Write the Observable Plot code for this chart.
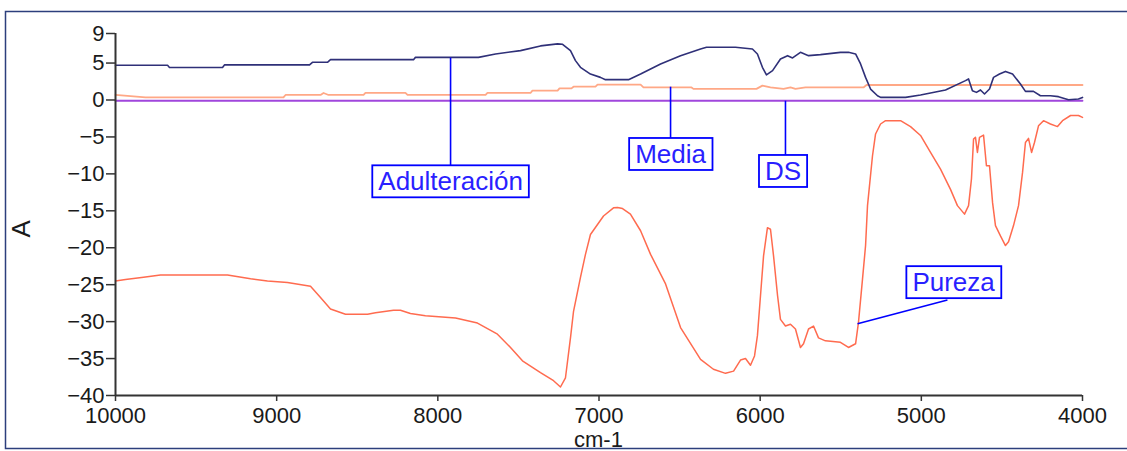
<!DOCTYPE html>
<html>
<head>
<meta charset="utf-8">
<script src="https://cdn.jsdelivr.net/npm/d3@7"></script>
<script src="https://cdn.jsdelivr.net/npm/@observablehq/plot@0.6"></script>
<style>
  html, body { margin: 0; padding: 0; background: #fff; }
  #chart { width: 1127px; height: 451px; }
</style>
</head>
<body>
<div id="chart"></div>
<script>
// ---- Data (wavenumber cm-1, absorbance A) ----
const adulWn = [10000, 9677, 9665, 9336, 9324, 8796, 8778, 8685, 8666, 8151, 8139, 7748, 7642, 7487, 7363, 7257, 7226, 7177, 7146, 7115, 7053, 6991, 6960, 6817, 6742, 6618, 6494, 6370, 6333, 6153, 6048, 6017, 5986, 5961, 5923, 5874, 5830, 5799, 5750, 5700, 5626, 5502, 5452, 5408, 5377, 5346, 5315, 5272, 5253, 5098, 5005, 4850, 4726, 4707, 4683, 4658, 4633, 4608, 4577, 4552, 4515, 4478, 4434, 4385, 4354, 4304, 4261, 4199, 4149, 4087, 4025, 4000];
const adulA = [4.7, 4.7, 4.4, 4.4, 4.75, 4.75, 5.1, 5.1, 5.46, 5.46, 5.77, 5.77, 6.23, 6.68, 7.32, 7.59, 7.54, 6.68, 5.33, 4.42, 3.51, 3.06, 2.75, 2.75, 3.51, 4.88, 6.0, 6.91, 7.13, 7.13, 6.91, 6.23, 4.42, 3.39, 3.97, 5.55, 6.0, 5.69, 6.45, 6.0, 6.14, 6.45, 6.45, 6.23, 4.88, 3.06, 1.48, 0.58, 0.35, 0.35, 0.68, 1.36, 2.62, 2.85, 1.26, 1.03, 1.36, 0.81, 1.48, 3.06, 3.51, 3.87, 3.51, 2.16, 1.17, 1.17, 0.58, 0.58, 0.45, 0.04, 0.14, 0.35];

const mediaWn = [10000, 9814, 8958, 8945, 8728, 8709, 8678, 8461, 8449, 8201, 8188, 7704, 7692, 7425, 7413, 7257, 7245, 7171, 7158, 7022, 7009, 6742, 6724, 6426, 6414, 6023, 5986, 5936, 5855, 5812, 5781, 5719, 5359, 5340, 4000];
const mediaA = [0.68, 0.35, 0.35, 0.68, 0.68, 0.95, 0.68, 0.68, 0.95, 0.95, 0.68, 0.68, 0.95, 0.95, 1.26, 1.26, 1.57, 1.57, 1.8, 1.8, 2.07, 2.07, 1.7, 1.7, 1.5, 1.5, 1.94, 1.7, 1.5, 1.7, 1.5, 1.7, 1.7, 2.03, 2.03];

const dsWn = [10000, 8500, 7000, 5500, 4000];
const dsA = [-0.1, -0.1, -0.1, -0.1, -0.1];

const purezaWn = [10000, 9938, 9826, 9721, 9305, 9162, 9057, 8933, 8790, 8728, 8666, 8573, 8436, 8387, 8275, 8232, 8170, 8077, 7890, 7754, 7630, 7549, 7475, 7363, 7282, 7239, 7208, 7177, 7158, 7115, 7084, 7053, 6972, 6910, 6885, 6854, 6805, 6742, 6680, 6587, 6494, 6370, 6290, 6215, 6165, 6122, 6091, 6060, 6035, 6017, 5998, 5979, 5955, 5936, 5917, 5892, 5874, 5843, 5812, 5781, 5750, 5731, 5700, 5669, 5638, 5595, 5502, 5452, 5408, 5390, 5365, 5346, 5334, 5303, 5284, 5253, 5222, 5129, 5067, 5005, 4943, 4881, 4819, 4776, 4732, 4707, 4689, 4676, 4664, 4652, 4639, 4614, 4596, 4577, 4558, 4540, 4509, 4478, 4459, 4428, 4397, 4372, 4354, 4335, 4316, 4298, 4273, 4242, 4199, 4155, 4124, 4074, 4025, 4000];
const purezaA = [-24.5, -24.3, -24.0, -23.7, -23.7, -24.2, -24.5, -24.7, -25.2, -26.75, -28.3, -29.0, -29.0, -28.8, -28.45, -28.45, -28.9, -29.2, -29.5, -30.2, -31.7, -33.5, -35.3, -36.9, -38.0, -38.85, -37.6, -32.2, -28.6, -24.0, -20.9, -18.2, -15.7, -14.6, -14.55, -14.7, -15.45, -17.7, -20.9, -24.9, -30.8, -35.1, -36.45, -37.0, -36.7, -35.2, -35.0, -35.9, -34.65, -31.9, -26.5, -21.1, -17.3, -17.5, -21.1, -26.5, -29.7, -30.6, -30.35, -31.0, -33.5, -33.0, -31.0, -30.6, -32.2, -32.6, -32.8, -33.5, -33.0, -30.1, -24.25, -19.7, -14.3, -7.55, -4.6, -3.25, -2.8, -2.8, -3.6, -4.8, -7.1, -9.35, -12.1, -14.3, -15.45, -14.3, -10.7, -5.3, -5.05, -7.1, -5.05, -4.75, -8.9, -8.9, -13.9, -17.0, -18.4, -19.7, -19.2, -17.0, -14.3, -9.8, -5.75, -5.2, -7.1, -5.75, -3.5, -2.8, -3.25, -3.6, -2.8, -2.1, -2.1, -2.35];

const seriesNames = ["Adulteración", "Media", "DS", "Pureza"];
const seriesColors = ["#2f3078", "#ffa886", "#a046dc", "#ff6b4f"];

// Annotation callouts
const annLabels = ["Adulteración", "Media", "DS", "Pureza"];
const annFromWn = [7921, 6556, 5843, 5396];
const annFromA = [5.73, 1.8, -0.1, -30.3];
const annToWn = [7921, 6556, 5843, 4838];
const annToA = [-8.9, -5.24, -7.5, -27.06];
const annTextWn = [7921, 6556, 5858, 4800];
const annTextA = [-11.1, -7.4, -9.7, -24.75];

const xTicks = [10000, 9000, 8000, 7000, 6000, 5000, 4000];
const yTicks = [9, 5, 0, -5, -10, -15, -20, -25, -30, -35, -40];
const xLabel = "cm-1";
const yLabel = "A";

// ---- Build tables ----
function rows(name, wn, a) { return wn.map((w, i) => ({series: name, wn: w, a: a[i]})); }
const lineData = [
  ...rows("Adulteración", adulWn, adulA),
  ...rows("Media", mediaWn, mediaA),
  ...rows("DS", dsWn, dsA),
  ...rows("Pureza", purezaWn, purezaA)
];
const ann = annLabels.map((l, i) => ({
  label: l, x1: annFromWn[i], y1: annFromA[i], x2: annToWn[i], y2: annToA[i], tx: annTextWn[i], ty: annTextA[i]
}));

const plot = Plot.plot({
  width: 1127,
  height: 451,
  marginLeft: 115,
  marginRight: 45,
  marginTop: 33,
  marginBottom: 56,
  style: {fontFamily: "'Liberation Sans', Arial, sans-serif", fontSize: "22px", background: "transparent", color: "#222"},
  x: {domain: [10000, 4000], label: null},
  y: {domain: [-40, 9], label: null},
  color: {domain: seriesNames, range: seriesColors},
  marks: [
    Plot.line(lineData.filter(d => d.series === "Media"), {x: "wn", y: "a", stroke: "series", strokeWidth: 1.8}),
    Plot.line(lineData.filter(d => d.series === "DS"), {x: "wn", y: "a", stroke: "series", strokeWidth: 1.8}),
    Plot.line(lineData.filter(d => d.series === "Adulteración"), {x: "wn", y: "a", stroke: "series", strokeWidth: 1.6}),
    Plot.line(lineData.filter(d => d.series === "Pureza"), {x: "wn", y: "a", stroke: "series", strokeWidth: 1.5}),
    Plot.ruleX([10000], {y1: -40, y2: 9, stroke: "#333", strokeWidth: 2}),
    Plot.ruleY([-40], {x1: 10000, x2: 4000, stroke: "#333", strokeWidth: 2}),
    Plot.axisY({ticks: yTicks, tickSize: 9, tickPadding: 2, stroke: "#333", strokeWidth: 1.5, label: null, fill: "#1a1a1a"}),
    Plot.axisX({ticks: xTicks, tickSize: 6, tickPadding: 6, tickFormat: d3.format("d"), stroke: "#333", strokeWidth: 1.5, label: null, fill: "#1a1a1a"}),
    Plot.link(ann, {x1: "x1", y1: "y1", x2: "x2", y2: "y2", stroke: "#0000ff", strokeWidth: 1.6}),
    Plot.text(ann, {x: "tx", y: "ty", text: "label", fontSize: 26, fill: "#2a1fff", textAnchor: "middle"})
  ]
});

document.getElementById("chart").appendChild(plot);
const svg = d3.select(plot);
const xs = plot.scale("x"), ys = plot.scale("y");

// boxes behind annotation labels
const textGroups = svg.selectAll("g[aria-label='text']");
const annGroup = textGroups.nodes()[textGroups.size() - 1];
d3.select(annGroup).selectAll("text").each(function() {
  const b = this.getBBox();
  const padX = 6, padY = 1;
  const tf = this.getAttribute("transform");
  const r = d3.select(this.parentNode).insert("rect", () => this)
    .attr("x", b.x - padX).attr("y", b.y - padY)
    .attr("width", b.width + 2 * padX).attr("height", b.height + 2 * padY)
    .attr("fill", "white").attr("stroke", "#0000ff").attr("stroke-width", 1.8);
  if (tf) r.attr("transform", tf);
});

// axis titles
svg.append("text")
  .attr("x", xs.apply(7000)).attr("y", 447)
  .attr("text-anchor", "middle")
  .attr("font-size", 22).attr("fill", "#1a1a1a")
  .text(xLabel);
svg.append("text")
  .attr("transform", `translate(21, ${ys.apply(-17.5)}) rotate(-90)`)
  .attr("text-anchor", "middle").attr("dominant-baseline", "central")
  .attr("font-size", 26).attr("fill", "#1a1a1a")
  .text(yLabel);

// outer frame
svg.append("rect")
  .attr("x", 5.5).attr("y", 11.5).attr("width", 1130).attr("height", 437)
  .attr("fill", "none").attr("stroke", "#2c3f7c").attr("stroke-width", 1.5);
</script>
</body>
</html>
